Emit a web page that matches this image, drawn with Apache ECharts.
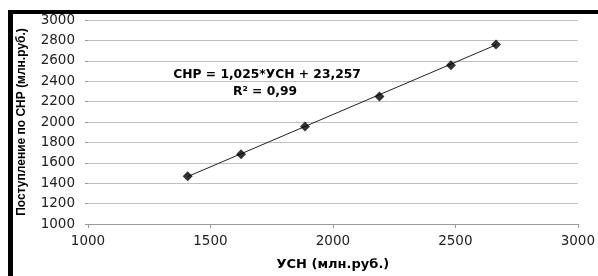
<!DOCTYPE html>
<html>
<head>
<meta charset="utf-8">
<script src="https://cdn.jsdelivr.net/npm/echarts@6/dist/echarts.min.js"></script>
<style>
  html, body { margin: 0; padding: 0; background: #fff; }
  #chart { width: 598px; height: 276px; }
</style>
</head>
<body>
<div id="chart"></div>
<script>
// данные
var usn = [1407, 1625, 1886, 2190, 2482, 2666]
var snr = [1467, 1683, 1955, 2250, 2556, 2760]
// линия тренда (концы)
var trendX = [1407, 2666]
var trendY = [1465, 2756]
var eqText = ['СНР = 1,025*УСН + 23,257', 'R² = 0,99']

var points = usn.map(function (x, i) { return [x, snr[i]] })
var trend = trendX.map(function (x, i) { return [x, trendY[i]] })

var chart = echarts.init(document.getElementById('chart'))
var font = 'DejaVu Sans'
var plain = function (v) { return String(v) }

chart.setOption({
  animation: false,
  backgroundColor: '#fff',
  grid: { left: 88, right: 20, top: 20, bottom: 45 },
  xAxis: {
    type: 'value', min: 1000, max: 3000, interval: 500,
    name: 'УСН (млн.руб.)', nameLocation: 'middle', nameGap: 34,
    nameTextStyle: { fontFamily: font, fontWeight: 'bold', fontSize: 13, color: '#000' },
    axisLine: { show: true, lineStyle: { color: '#9a9a9a' } },
    axisTick: { show: true, length: 4, lineStyle: { color: '#9a9a9a' } },
    axisLabel: { fontFamily: font, fontSize: 13.5, color: '#222', margin: 10, formatter: plain },
    splitLine: { show: false }
  },
  yAxis: {
    type: 'value', min: 1000, max: 3000, interval: 200,
    name: 'Поступление по СНР (млн.руб.)', nameLocation: 'middle', nameGap: 60,
    nameTextStyle: { fontFamily: 'Liberation Sans', fontWeight: 'bold', fontSize: 12, color: '#000' },
    axisLine: { show: false },
    axisTick: { show: true, length: 3, lineStyle: { color: '#9a9a9a' } },
    axisLabel: { fontFamily: font, fontSize: 13.5, color: '#222', margin: 13, formatter: plain },
    splitLine: { show: true, lineStyle: { color: '#c0c0c0', width: 1 } }
  },
  series: [
    {
      type: 'line', data: trend, symbol: 'none',
      lineStyle: { color: '#222', width: 1 }, z: 2
    },
    {
      type: 'scatter', data: points, symbol: 'diamond', symbolSize: 10,
      itemStyle: { color: '#000' }, z: 3
    }
  ],
  graphic: [
    { type: 'rect', left: 8, top: 10, shape: { width: 590, height: 4 }, style: { fill: '#000' } },
    { type: 'rect', left: 8, top: 10, shape: { width: 5, height: 266 }, style: { fill: '#000' } },
    {
      type: 'text', x: 267, y: 75,
      style: { text: eqText[0], fontFamily: font, fontWeight: 'bold', fontSize: 12.3, fill: '#000', align: 'center', verticalAlign: 'middle' }
    },
    {
      type: 'text', x: 265, y: 92,
      style: { text: eqText[1], fontFamily: font, fontWeight: 'bold', fontSize: 12.3, fill: '#000', align: 'center', verticalAlign: 'middle' }
    }
  ]
})
</script>
</body>
</html>
